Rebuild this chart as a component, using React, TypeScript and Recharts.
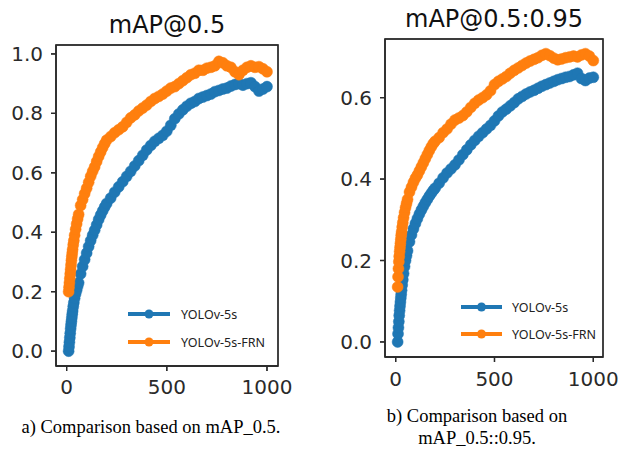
import React from "react";
import { LineChart, Line, XAxis, YAxis, ReferenceArea } from "recharts";

const epochs = [
  10, 12, 14, 16, 18, 20, 22, 24, 26, 28, 30, 33, 36, 40, 45, 50, 55, 60,
  70, 80, 90, 100, 110, 120, 130, 140, 150, 160, 170, 180, 190, 200,
  220, 240, 260, 280, 300, 320, 340, 360, 380, 400,
  420, 440, 460, 480, 500, 520, 540, 560, 580, 600,
  620, 640, 660, 680, 700, 720, 740, 760, 780, 800,
  820, 840, 860, 880, 900, 920, 940, 960, 980, 1000,
];

const seriesNames = ["YOLOv-5s", "YOLOv-5s-FRN"];
const seriesColors = ["#1f77b4", "#ff7f0e"];

const map50Base = [
  0.0, 0.015, 0.03, 0.045, 0.06, 0.075, 0.088, 0.1, 0.112, 0.124, 0.135, 0.15, 0.163, 0.178, 0.193, 0.205, 0.218, 0.23,
  0.26, 0.285, 0.308, 0.33, 0.352, 0.372, 0.39, 0.407, 0.425, 0.443, 0.458, 0.472, 0.485, 0.497,
  0.515, 0.535, 0.553, 0.57, 0.588, 0.605, 0.623, 0.641, 0.659, 0.677,
  0.692, 0.706, 0.716, 0.726, 0.74, 0.76, 0.782, 0.798, 0.812, 0.824,
  0.834, 0.84, 0.85, 0.855, 0.86, 0.865, 0.873, 0.877, 0.882, 0.885,
  0.892, 0.897, 0.9, 0.895, 0.9, 0.903, 0.89, 0.875, 0.882, 0.89,
];

const map50Frn = [
  0.2, 0.215, 0.23, 0.245, 0.26, 0.275, 0.29, 0.305, 0.318, 0.33, 0.342, 0.358, 0.372, 0.39, 0.41, 0.428, 0.445, 0.46,
  0.49, 0.51, 0.53, 0.548, 0.568, 0.588, 0.605, 0.62, 0.638, 0.655, 0.67, 0.685, 0.698, 0.71,
  0.722, 0.735, 0.745, 0.755, 0.77, 0.785, 0.795, 0.808, 0.818, 0.828,
  0.84, 0.85, 0.857, 0.865, 0.875, 0.885, 0.89, 0.9, 0.91, 0.92,
  0.93, 0.935, 0.945, 0.945, 0.952, 0.955, 0.96, 0.975, 0.97, 0.96,
  0.955, 0.94, 0.93, 0.945, 0.955, 0.96, 0.955, 0.957, 0.95, 0.94,
];

const map5095Base = [
  0.0, 0.02, 0.035, 0.05, 0.065, 0.077, 0.088, 0.098, 0.108, 0.117, 0.127, 0.14, 0.153, 0.168, 0.185, 0.2, 0.212, 0.224,
  0.246, 0.263, 0.278, 0.291, 0.303, 0.314, 0.324, 0.333, 0.342, 0.35, 0.358, 0.365, 0.372, 0.378,
  0.39, 0.403, 0.415, 0.425, 0.435, 0.447, 0.46, 0.472, 0.484, 0.495,
  0.505, 0.514, 0.523, 0.532, 0.543, 0.555, 0.565, 0.572, 0.58, 0.588,
  0.597, 0.603, 0.609, 0.614, 0.618, 0.623, 0.628, 0.632, 0.636, 0.64,
  0.644, 0.647, 0.65, 0.652, 0.656, 0.66, 0.647, 0.642, 0.648, 0.65,
];

const map5095Frn = [
  0.135, 0.16, 0.18, 0.197, 0.21, 0.222, 0.232, 0.242, 0.252, 0.262, 0.27, 0.282, 0.293, 0.305, 0.318, 0.33, 0.34, 0.35,
  0.368, 0.38, 0.392, 0.402, 0.41, 0.42, 0.43, 0.44, 0.45, 0.46, 0.47, 0.479, 0.487, 0.493,
  0.502, 0.514, 0.523, 0.535, 0.545, 0.55, 0.556, 0.565, 0.576, 0.586,
  0.594, 0.6, 0.607, 0.617, 0.632, 0.64, 0.646, 0.652, 0.66, 0.667,
  0.673, 0.679, 0.685, 0.69, 0.694, 0.698, 0.704, 0.708, 0.703, 0.697,
  0.693, 0.695, 0.698, 0.7, 0.702, 0.7, 0.705, 0.708, 0.702, 0.691,
];

const xTicks = [0, 500, 1000];
const yTicksA = [0, 0.2, 0.4, 0.6, 0.8, 1.0];
const yTicksB = [0, 0.2, 0.4, 0.6];

const titles = ["mAP@0.5", "mAP@0.5:0.95"];
const captionA = ["a) Comparison based on mAP_0.5."];
const captionB = ["b) Comparison based on", "mAP_0.5::0.95."];

const buildRows = (base: number[], frn: number[]) =>
  epochs.map((e, i) => ({ epoch: e, base: base[i], frn: frn[i] }));

const frameColor = "#2a2a2a";
const frameWidth = 1.3;

type PanelProps = {
  width: number;
  height: number;
  margin: { top: number; right: number; bottom: number; left: number };
  yWidth: number;
  xHeight: number;
  xDomain: [number, number];
  yDomain: [number, number];
  yTicks: number[];
  xTickMargin: number;
  rows: { epoch: number; base: number; frn: number }[];
};

function Panel(p: PanelProps) {
  return (
    <LineChart width={p.width} height={p.height} data={p.rows} margin={p.margin}>
      <XAxis
        type="number"
        dataKey="epoch"
        domain={p.xDomain}
        ticks={xTicks}
        height={p.xHeight}
        tickSize={5}
        tickMargin={p.xTickMargin}
        stroke={frameColor}
        strokeWidth={frameWidth}
        fontFamily="DejaVu Sans"
        fontSize={20}
      />
      <YAxis
        type="number"
        domain={p.yDomain}
        ticks={p.yTicks}
        width={p.yWidth}
        tickSize={5}
        tickMargin={8}
        tickFormatter={(v: number) => v.toFixed(1)}
        stroke={frameColor}
        strokeWidth={frameWidth}
        fontFamily="DejaVu Sans"
        fontSize={20}
      />
      <ReferenceArea
        x1={p.xDomain[0]}
        x2={p.xDomain[1]}
        y1={p.yDomain[0]}
        y2={p.yDomain[1]}
        fill="none"
        stroke={frameColor}
        strokeWidth={frameWidth}
      />
      <Line
        dataKey="base"
        name={seriesNames[0]}
        stroke={seriesColors[0]}
        strokeWidth={3}
        dot={{ r: 5.5, fill: seriesColors[0], stroke: seriesColors[0], strokeWidth: 0.5 }}
        isAnimationActive={false}
      />
      <Line
        dataKey="frn"
        name={seriesNames[1]}
        stroke={seriesColors[1]}
        strokeWidth={3}
        dot={{ r: 5.5, fill: seriesColors[1], stroke: seriesColors[1], strokeWidth: 0.5 }}
        isAnimationActive={false}
      />
    </LineChart>
  );
}

// Frame + tick marks overlay (plot rectangles matching the chart margins above)
function Frame({
  x0, y0, x1, y1, yZero, yPerUnit, yTicks, xZero, xPerUnit,
}: {
  x0: number; y0: number; x1: number; y1: number;
  yZero: number; yPerUnit: number; yTicks: number[];
  xZero: number; xPerUnit: number;
}) {
  return (
    <g stroke={frameColor} strokeWidth={frameWidth} fill="none">
      <rect x={x0} y={y0} width={x1 - x0} height={y1 - y0} />
      {yTicks.map((v) => (
        <line key={"y" + v} x1={x0 - 5} x2={x0} y1={yZero - v * yPerUnit} y2={yZero - v * yPerUnit} />
      ))}
      {xTicks.map((t) => (
        <line key={"x" + t} x1={xZero + t * xPerUnit} x2={xZero + t * xPerUnit} y1={y1} y2={y1 + 5} />
      ))}
    </g>
  );
}

function LegendBox({ x1, x2, ys, tx }: { x1: number; x2: number; ys: number[]; tx: number }) {
  return (
    <g>
      {seriesNames.map((n, i) => (
        <g key={n}>
          <line x1={x1} x2={x2} y1={ys[i]} y2={ys[i]} stroke={seriesColors[i]} strokeWidth={4} />
          <circle cx={(x1 + x2) / 2} cy={ys[i]} r={4.5} fill={seriesColors[i]} />
          <text
            x={tx}
            y={ys[i]}
            dominantBaseline="central"
            fontFamily="Noto Sans"
            fontSize={12.5}
            fill="#222"
          >
            {n}
          </text>
        </g>
      ))}
    </g>
  );
}

const titleStyle: React.CSSProperties = {
  position: "absolute",
  fontFamily: "DejaVu Sans",
  fontSize: 24,
  lineHeight: "24px",
  color: "#111",
  textAlign: "center",
  whiteSpace: "nowrap",
};

const captionStyle: React.CSSProperties = {
  position: "absolute",
  fontFamily: "Liberation Serif",
  fontSize: 18.5,
  lineHeight: "21.7px",
  color: "#000",
  textAlign: "center",
  whiteSpace: "nowrap",
};

export default function App() {
  const rowsA = buildRows(map50Base, map50Frn);
  const rowsB = buildRows(map5095Base, map5095Frn);
  return (
    <div
      style={{
        position: "absolute",
        left: 0,
        top: 0,
        width: 620,
        height: 450,
        background: "#fff",
      }}
    >
      <div style={{ display: "flex", flexDirection: "row" }}>
        <div style={{ width: 310, height: 400 }}>
          <Panel
            width={300}
            height={400}
            margin={{ top: 45, right: 22, bottom: 0, left: 0 }}
            yWidth={56}
            xHeight={34}
            xDomain={[-53, 1055]}
            yDomain={[-0.05, 1.03]}
            yTicks={yTicksA}
            xTickMargin={9}
            rows={rowsA}
          />
        </div>
        <div style={{ width: 310, height: 400 }}>
          <Panel
            width={310}
            height={400}
            margin={{ top: 39, right: 17, bottom: 0, left: 0 }}
            yWidth={75}
            xHeight={43}
            xDomain={[-54, 1049]}
            yDomain={[-0.037, 0.744]}
            yTicks={yTicksB}
            xTickMargin={10}
            rows={rowsB}
          />
        </div>
      </div>
      <svg
        width={620}
        height={450}
        style={{ position: "absolute", left: 0, top: 0, pointerEvents: "none" }}
      >
        <Frame
          x0={56} y0={45} x1={278} y1={366}
          yZero={45 + (1.03 / 1.08) * 321} yPerUnit={321 / 1.08} yTicks={yTicksA}
          xZero={56 + (53 / 1108) * 222} xPerUnit={222 / 1108}
        />
        <Frame
          x0={385} y0={39} x1={603} y1={357}
          yZero={39 + (0.744 / 0.781) * 318} yPerUnit={318 / 0.781} yTicks={yTicksB}
          xZero={385 + (54 / 1103) * 218} xPerUnit={218 / 1103}
        />
        <LegendBox x1={128} x2={170} ys={[314, 342]} tx={181} />
        <LegendBox x1={461} x2={502} ys={[307, 334]} tx={512} />
      </svg>
      <div style={{ ...titleStyle, left: 67, width: 200, top: 13 }}>{titles[0]}</div>
      <div style={{ ...titleStyle, left: 394, width: 200, top: 7 }}>{titles[1]}</div>
      <div style={{ ...captionStyle, left: 1, width: 300, top: 417 }}>
        {captionA.map((l) => (
          <div key={l}>{l}</div>
        ))}
      </div>
      <div style={{ ...captionStyle, left: 327, width: 300, top: 406 }}>
        {captionB.map((l) => (
          <div key={l}>{l}</div>
        ))}
      </div>
    </div>
  );
}
